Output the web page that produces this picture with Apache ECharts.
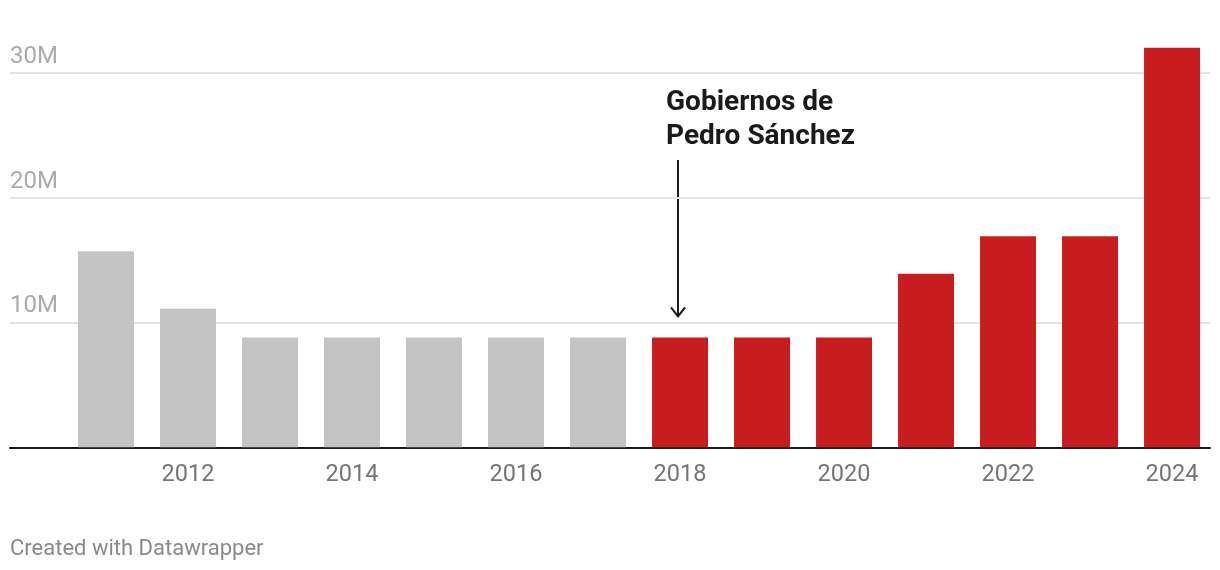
<!DOCTYPE html>
<html>
<head>
<meta charset="utf-8">
<script src="https://cdn.jsdelivr.net/npm/echarts@6/dist/echarts.min.js"></script>
<style>
html,body{margin:0;padding:0;background:#fff;}
#c{width:1220px;height:570px;}
</style>
</head>
<body>
<div id="c"></div>
<script>
const years = [2011,2012,2013,2014,2015,2016,2017,2018,2019,2020,2021,2022,2023,2024];
const values = [15.7,11.1,8.8,8.8,8.8,8.8,8.8,8.8,8.8,8.8,13.9,16.9,16.9,32.0]; // millions
const xTickLabels = [2012,2014,2016,2018,2020,2022,2024];
const yTicks = [0,10,20,30];
const highlightFrom = 2018;
const annotationText = 'Gobiernos de\nPedro Sánchez';
const sourceText = 'Created with Datawrapper';

const chart = echarts.init(document.getElementById('c'), null, {renderer:'canvas'});
const FONT = 'Roboto';

const option = {
  animation:false,
  backgroundColor:'#fff',
  grid:{left:10,right:10,top:72.7,bottom:122.7},
  xAxis:{
    type:'value',
    min:2009.829,
    max:2024.463,
    splitLine:{show:false},
    axisTick:{show:false},
    axisLine:{show:true,onZero:false,lineStyle:{color:'#1a1a1a',width:2}},
    axisLabel:{
      customValues:xTickLabels,
      color:'#757575',fontSize:23.5,fontFamily:FONT,margin:16,
      formatter:v=>String(v)
    }
  },
  yAxis:{
    type:'value',
    min:0,max:30,interval:10,
    axisLine:{show:false},axisTick:{show:false},
    splitLine:{lineStyle:{color:'#e3e3e3',width:2}},
    axisLabel:{
      inside:true,align:'left',verticalAlign:'bottom',margin:0,
      padding:[0,0,4,0],
      color:'#ababab',fontSize:24,fontFamily:FONT,
      formatter:v=> v===0 ? '' : v+'M'
    }
  },
  series:[{
    type:'bar',
    clip:false,
    barWidth:56,
    data:years.map((y,i)=>({
      value:[y,values[i]],
      itemStyle:{color: y>=highlightFrom ? '#c71d1e' : '#c4c4c4'}
    }))
  }],
  graphic:[]
};
chart.setOption(option);

// annotation positioned via the axes
const p = chart.convertToPixel({gridIndex:0},[highlightFrom, values[years.indexOf(highlightFrom)]]);
const ax = p[0]-2;
const tipY = p[1]-21;
chart.setOption({
  graphic:[
    {type:'text',left:ax-12,top:86,style:{text:annotationText,font:'bold 28px Roboto',fill:'#1a1a1a',lineHeight:34}},
    {type:'line',shape:{x1:ax,y1:160,x2:ax,y2:tipY},style:{stroke:'#1a1a1a',lineWidth:2}},
    {type:'polyline',shape:{points:[[ax-7,tipY-9],[ax,tipY],[ax+7,tipY-9]]},style:{stroke:'#1a1a1a',lineWidth:2,fill:null}},
    {type:'text',left:10,top:538,style:{text:sourceText,font:'22px Roboto',fill:'#8a8a8a'}}
  ]
});
</script>
</body>
</html>
